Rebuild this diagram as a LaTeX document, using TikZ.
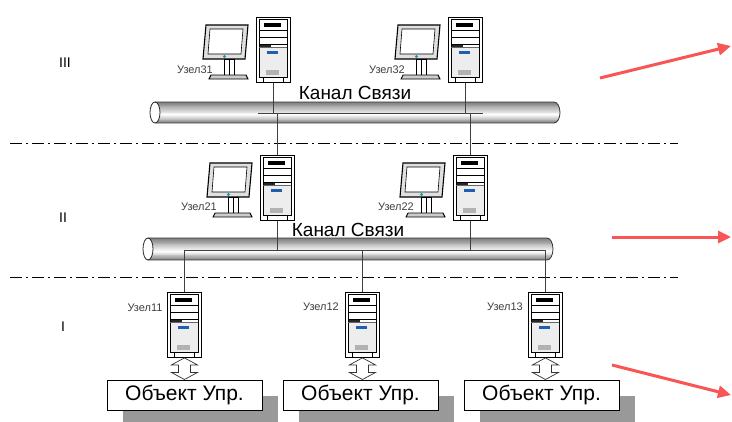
\documentclass[tikz,border=0pt]{standalone}
\usepackage{fontspec}
\setmainfont{Liberation Sans}
\usetikzlibrary{calc,arrows.meta,shadows}
\definecolor{arrowred}{RGB}{250,85,85}
\definecolor{ledblue}{RGB}{30,95,175}
\definecolor{ledteal}{RGB}{25,150,165}

% hollow up-down arrow between a computer and its controlled object
\newcommand{\updownlink}[2]{%
  \draw[line width=0.7pt, draw=black!80, fill=white]
    (#1.south) -- ++(13,7) -- ++(-7,0)
    -- ($(#1.south |- #2.north)+(6,-7)$) -- ++(7,0)
    -- (#1.south |- #2.north) -- ++(-13,-7) -- ++(7,0)
    -- ($(#1.south)+(-6,7)$) -- ++(-7,0) -- cycle;}

% communication channel drawn as a horizontal tube with a banded gradient
\newcommand{\tube}[4]{% x-left, x-right, y-centre, half height
  \begin{scope}
    \clip (#1,#3-#4) -- (#2,#3-#4)
      arc[start angle=90, end angle=-90, x radius=6pt, y radius=#4pt]
      -- (#1,#3+#4) -- cycle;
    \foreach \k in {0,...,23}{%
      \pgfmathsetmacro{\tt}{\k/23}%
      \pgfmathsetmacro{\gl}{\tt<0.62 ? 50*(1-\tt/0.62) : 45*(\tt-0.62)/0.38}%
      \fill[black!\gl] (#1-1,#3-#4+2*#4*\k/24) rectangle (#2+8,#3-#4+2*#4*\k/24+2*#4/24+0.3);
    }
  \end{scope}
  \draw[draw=black!80, line width=0.8pt]
    (#1,#3-#4) -- (#2,#3-#4)
    arc[start angle=90, end angle=-90, x radius=6pt, y radius=#4pt]
    -- (#1,#3+#4);
  \draw[fill=white, line width=0.8pt, draw=black!85] (#1,#3) ellipse[x radius=5pt, y radius=#4pt];}

\begin{document}
\begin{tikzpicture}[x=1pt,y=-1pt,
  tower/.style={draw, line width=0.9pt, fill=white, rectangle, inner sep=0pt,
    minimum width=34pt, minimum height=65pt, anchor=north west},
  towerparts/.pic={
    \fill[black!7] (3,30) rectangle (31,60);
    \draw[line width=0.6pt] (3,2) rectangle (31,60);
    \fill[black] (8,6) rectangle (25,10);
    \draw[line width=0.6pt] (3,13) -- (31,13) (3,20) -- (31,20) (3,27) -- (31,27);
    \fill[black!85] (4,27.5) rectangle (15,30);
    \draw[line width=0.5pt, black!60] (3,30.5) -- (31,30.5);
    \fill[ledblue] (11,34) rectangle (22,36.5);
    \fill[black!30] (10,53) rectangle (23,58);
    \draw[line width=0.6pt] (7,60) -- (7,65) (27,60) -- (27,65);
  },
  monitor/.pic={
    \draw[line width=1.1pt, fill=black!12] (3,0) -- (45,0) -- (42,34) -- (0,34) -- cycle;
    \draw[line width=0.6pt, fill=white] (7,4) -- (40,4) -- (38,29) -- (5,29) -- cycle;
    \fill[ledteal] (21.5,31.5) circle (1.6pt);
    \draw[line width=0.8pt, fill=white] (21,34) rectangle (31,50);
    \draw[line width=0.5pt] (26,34) -- (26,50);
    \draw[line width=0.9pt, fill=black!20] (8,50) -- (43,50) -- (45,54) -- (6,54) -- cycle;
  },
  lbl/.style={font=\fontsize{11}{11}\selectfont, text=black!75, inner sep=0pt},
  chan/.style={font=\fontsize{19}{19}\selectfont, inner sep=0pt},
  level/.style={font=\fontsize{14}{14}\selectfont, inner sep=0pt},
  objbox/.style={draw, line width=1pt, fill=white, minimum width=155pt,
    minimum height=30pt, inner sep=0pt, font=\fontsize{21}{21}\selectfont,
    drop shadow={shadow xshift=16pt, shadow yshift=-16pt, fill=black!40, opacity=1}},
  wire/.style={draw=black!75, line width=0.8pt},
  sep/.style={line width=0.9pt, dash pattern=on 12pt off 4pt on 2pt off 4pt},
  redarrow/.style={draw=arrowred, line width=3pt, -{Triangle[length=13pt,width=12pt]}}
]
\clip (0,0) rectangle (732,421);
\fill[white] (0,0) rectangle (732,421);

% level separators
\coordinate (s1a) at (10,143); \coordinate (s1b) at (678,143);
\coordinate (s2a) at (10,277); \coordinate (s2b) at (678,277);
\draw[sep] (s1a) -- (s1b);
\draw[sep] (s2a) -- (s2b);

% level numbers
\node[level] (lv3) at (65,63) {III};
\node[level] (lv2) at (63,218) {II};
\node[level] (lv1) at (63,327) {I};

% upper channel
\tube{155}{554}{112.5}{10.5}
\node[chan] (ch3) at (355,93) {Канал Связи};
\coordinate (bus3w) at (258,113);
\coordinate (bus3e) at (483,113);
\draw[wire] (bus3w) -- (bus3e);

% lower channel
\tube{148}{547}{249}{11}
\node[chan] (ch2) at (348,230) {Канал Связи};
\coordinate (bus2) at (0,250);

% level III nodes
\pic at (203,25) {monitor};
\pic at (395,25) {monitor};
\node[tower] (t31) at (256,17) {};
\node[tower] (t32) at (448,17) {};
\node[lbl] (l31) at (195,70) {Узел31};
\node[lbl] (l32) at (387,70) {Узел32};

% level II nodes
\pic at (207,163) {monitor};
\pic at (400,163) {monitor};
\node[tower] (t21) at (260,155) {};
\node[tower] (t22) at (453,155) {};
\node[lbl] (l21) at (199,207) {Узел21};
\node[lbl] (l22) at (396,207) {Узел22};

% level I nodes
\node[tower] (t11) at (167,292) {};
\node[tower] (t12) at (345,292) {};
\node[tower] (t13) at (528,292) {};
\node[lbl] (l11) at (145,308) {Узел11};
\node[lbl] (l12) at (321,307) {Узел12};
\node[lbl] (l13) at (505,307) {Узел13};

% front panels of the system units
\foreach \t in {t31,t32,t21,t22,t11,t12,t13}{\pic at (\t.north west) {towerparts};}

% controlled objects
\node[objbox] (b1) at (184.5,395) {Объект Упр.};
\node[objbox] (b2) at (360.5,395) {Объект Упр.};
\node[objbox] (b3) at (541.5,395) {Объект Упр.};

% links of the upper channel
\draw[wire] (t31.south) -- (t31.south |- bus3w);
\draw[wire] (t32.south) -- (t32.south |- bus3w);
\draw[wire] (t21.north) -- (t21.north |- bus3w);
\draw[wire] (t22.north) -- (t22.north |- bus3w);

% links of the lower channel
\draw[wire] (t11.north |- bus2) -- (t13.north |- bus2);
\draw[wire] (t21.south) -- (t21.south |- bus2);
\draw[wire] (t22.south) -- (t22.south |- bus2);
\draw[wire] (t11.north) -- (t11.north |- bus2);
\draw[wire] (t12.north) -- (t12.north |- bus2);
\draw[wire] (t13.north) -- (t13.north |- bus2);

% computer <-> object exchange
\updownlink{t11}{b1}
\updownlink{t12}{b2}
\updownlink{t13}{b3}

% red arrows
\coordinate (r1s) at (600,78);  \coordinate (r1e) at (731,46);
\coordinate (r2s) at (612,237); \coordinate (r2e) at (731,237);
\coordinate (r3s) at (612,365); \coordinate (r3e) at (731,395);
\draw[redarrow] (r1s) -- (r1e);
\draw[redarrow] (r2s) -- (r2e);
\draw[redarrow] (r3s) -- (r3e);
\end{tikzpicture}
\end{document}
